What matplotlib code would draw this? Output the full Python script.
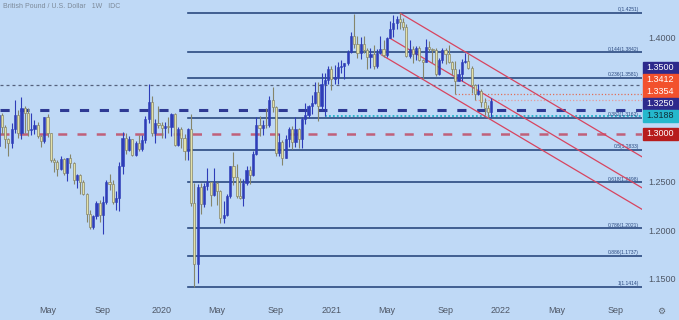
import matplotlib.pyplot as plt
import matplotlib.dates as mdates
import numpy as np
import pandas as pd
from matplotlib.patches import Rectangle

plt.rcParams['font.family'] = ['Liberation Sans', 'DejaVu Sans']

# weekly GBP/USD bars, first bar = week of 2019-01-21
weeks = pd.date_range("2019-01-21", periods=152, freq="7D")

opens = [
    # 2019
    1.2870, 1.3195, 1.3074, 1.2940, 1.2902, 1.3045, 1.3195, 1.3005, 1.3262, 1.3210,
    1.3035, 1.3045, 1.3085, 1.2975, 1.2920, 1.3177, 1.3005, 1.2725, 1.2710, 1.2630,
    1.2740, 1.2595, 1.2750, 1.2695, 1.2520, 1.2575, 1.2495, 1.2375, 1.2165, 1.2030,
    1.2145, 1.2280, 1.2160, 1.2290, 1.2500, 1.2475, 1.2290, 1.2330, 1.2665, 1.2960,
    1.2835, 1.2940, 1.2775, 1.2900, 1.2840, 1.2935, 1.3150, 1.3330, 1.3005, 1.3110,
    # 2020
    1.3085, 1.3060, 1.3075, 1.3070, 1.3205, 1.2880, 1.3050, 1.2960, 1.2820, 1.3045,
    1.2280, 1.1650, 1.2450, 1.2270, 1.2455, 1.2495, 1.2365, 1.2490, 1.2405, 1.2125,
    1.2160, 1.2350, 1.2665, 1.2550, 1.2350, 1.2335, 1.2485, 1.2620, 1.2570, 1.2790,
    1.3085, 1.3055, 1.3090, 1.3085, 1.3350, 1.3275, 1.2795, 1.2915, 1.2750, 1.2945,
    1.3045, 1.2915, 1.3045, 1.2945, 1.3150, 1.3190, 1.3285, 1.3320, 1.3435, 1.3285,
    1.3510, 1.3560,
    # 2021
    1.3670, 1.3565, 1.3590, 1.3690, 1.3705, 1.3730, 1.3850, 1.4015, 1.3925, 1.3840,
    1.3925, 1.3865, 1.3795, 1.3830, 1.3705, 1.3840, 1.3875, 1.3820, 1.3995, 1.4085,
    1.4150, 1.4190, 1.4155, 1.4110, 1.3805, 1.3880, 1.3825, 1.3890, 1.3760, 1.3745,
    1.3900, 1.3875, 1.3865, 1.3620, 1.3760, 1.3870, 1.3830, 1.3740, 1.3675, 1.3545,
    1.3615, 1.3745, 1.3755, 1.3680, 1.3500, 1.3415, 1.3440, 1.3330, 1.3265, 1.3230,
]
highs = [
    1.3218, 1.3215, 1.3090, 1.2960, 1.3109, 1.3350, 1.3245, 1.3381, 1.3288, 1.3267,
    1.3210, 1.3144, 1.3120, 1.2985, 1.3177, 1.3200, 1.3010, 1.2750, 1.2725, 1.2765,
    1.2750, 1.2750, 1.2785, 1.2710, 1.2580, 1.2580, 1.2520, 1.2385, 1.2210, 1.2160,
    1.2300, 1.2310, 1.2350, 1.2525, 1.2583, 1.2515, 1.2410, 1.2708, 1.3013, 1.3012,
    1.2976, 1.2950, 1.2925, 1.2985, 1.2985, 1.3180, 1.3515, 1.3395, 1.3150, 1.3285,
    1.3120, 1.3120, 1.3170, 1.3210, 1.3212, 1.3070, 1.3070, 1.3000, 1.3060, 1.3200,
    1.2485, 1.2480, 1.2485, 1.2485, 1.2645, 1.2500, 1.2645, 1.2500, 1.2420, 1.2300,
    1.2380, 1.2670, 1.2810, 1.2690, 1.2545, 1.2535, 1.2670, 1.2665, 1.2820, 1.3170,
    1.3185, 1.3145, 1.3265, 1.3395, 1.3480, 1.3285, 1.3005, 1.2935, 1.2985, 1.3065,
    1.3080, 1.3175, 1.3060, 1.3175, 1.3315, 1.3300, 1.3400, 1.3540, 1.3540, 1.3625,
    1.3625, 1.3705,
    1.3705, 1.3710, 1.3745, 1.3760, 1.3735, 1.3865, 1.4050, 1.4241, 1.4015, 1.4000,
    1.4015, 1.3885, 1.3885, 1.3920, 1.3875, 1.4010, 1.3970, 1.4000, 1.4165, 1.4235,
    1.4220, 1.4251, 1.4200, 1.4135, 1.3975, 1.3905, 1.3910, 1.3910, 1.3775, 1.3985,
    1.3960, 1.3890, 1.3890, 1.3780, 1.3890, 1.3890, 1.3915, 1.3750, 1.3750, 1.3675,
    1.3775, 1.3835, 1.3825, 1.3700, 1.3515, 1.3515, 1.3460, 1.3375, 1.3295, 1.3375,
]
lows = [
    1.2866, 1.3000, 1.2852, 1.2773, 1.2852, 1.3005, 1.2960, 1.2945, 1.3005, 1.2977,
    1.2987, 1.3000, 1.2955, 1.2866, 1.2905, 1.2965, 1.2710, 1.2605, 1.2560, 1.2625,
    1.2575, 1.2505, 1.2645, 1.2475, 1.2440, 1.2380, 1.2365, 1.2080, 1.2015, 1.2015,
    1.2115, 1.2080, 1.1958, 1.2275, 1.2415, 1.2270, 1.2205, 1.2195, 1.2580, 1.2790,
    1.2825, 1.2765, 1.2770, 1.2820, 1.2820, 1.2905, 1.3110, 1.2975, 1.2905, 1.3060,
    1.2955, 1.2960, 1.3010, 1.2975, 1.2870, 1.2870, 1.2850, 1.2725, 1.2725, 1.2250,
    1.1409, 1.1455, 1.2165, 1.2245, 1.2415, 1.2250, 1.2350, 1.2265, 1.2075, 1.2075,
    1.2150, 1.2335, 1.2465, 1.2335, 1.2320, 1.2250, 1.2470, 1.2480, 1.2560, 1.2780,
    1.2980, 1.2990, 1.3055, 1.3070, 1.3225, 1.2765, 1.2765, 1.2675, 1.2745, 1.2865,
    1.2845, 1.2865, 1.2855, 1.2855, 1.3105, 1.3165, 1.3200, 1.3310, 1.3135, 1.3250,
    1.3188, 1.3515,
    1.3450, 1.3520, 1.3520, 1.3625, 1.3565, 1.3715, 1.3835, 1.3890, 1.3780, 1.3775,
    1.3835, 1.3670, 1.3685, 1.3670, 1.3685, 1.3830, 1.3800, 1.3800, 1.3990, 1.4005,
    1.4090, 1.4085, 1.4075, 1.3790, 1.3785, 1.3730, 1.3760, 1.3750, 1.3570, 1.3740,
    1.3860, 1.3730, 1.3600, 1.3610, 1.3735, 1.3725, 1.3730, 1.3610, 1.3412, 1.3545,
    1.3545, 1.3730, 1.3670, 1.3425, 1.3354, 1.3400, 1.3280, 1.3195, 1.3160, 1.3175,
]
closes = [
    1.3195, 1.3074, 1.2940, 1.2902, 1.3045, 1.3195, 1.3005, 1.3262, 1.3210, 1.3035,
    1.3045, 1.3085, 1.2975, 1.2920, 1.3177, 1.3005, 1.2725, 1.2710, 1.2630, 1.2740,
    1.2595, 1.2750, 1.2695, 1.2520, 1.2575, 1.2495, 1.2375, 1.2165, 1.2030, 1.2145,
    1.2280, 1.2160, 1.2290, 1.2500, 1.2475, 1.2290, 1.2330, 1.2665, 1.2960, 1.2835,
    1.2940, 1.2775, 1.2900, 1.2840, 1.2935, 1.3150, 1.3330, 1.3005, 1.3110, 1.3085,
    1.3060, 1.3075, 1.3070, 1.3205, 1.2880, 1.3050, 1.2960, 1.2820, 1.3045, 1.2280,
    1.1650, 1.2450, 1.2270, 1.2455, 1.2495, 1.2365, 1.2490, 1.2405, 1.2125, 1.2160,
    1.2350, 1.2665, 1.2550, 1.2350, 1.2335, 1.2485, 1.2620, 1.2570, 1.2790, 1.3085,
    1.3055, 1.3090, 1.3085, 1.3350, 1.3275, 1.2795, 1.2915, 1.2750, 1.2945, 1.3045,
    1.2915, 1.3045, 1.2945, 1.3150, 1.3190, 1.3285, 1.3320, 1.3435, 1.3285, 1.3510,
    1.3560, 1.3670,
    1.3565, 1.3590, 1.3690, 1.3705, 1.3730, 1.3850, 1.4015, 1.3925, 1.3840, 1.3925,
    1.3865, 1.3795, 1.3830, 1.3705, 1.3840, 1.3875, 1.3820, 1.3995, 1.4085, 1.4150,
    1.4190, 1.4155, 1.4110, 1.3805, 1.3880, 1.3825, 1.3890, 1.3760, 1.3745, 1.3900,
    1.3875, 1.3865, 1.3620, 1.3760, 1.3870, 1.3830, 1.3740, 1.3675, 1.3545, 1.3615,
    1.3745, 1.3755, 1.3680, 1.3500, 1.3415, 1.3440, 1.3330, 1.3265, 1.3230, 1.3340,
]

# fibonacci retracement (Mar 2020 low -> Jun 2021 high)
fib_ratios = ["0", "0.144", "0.236", "0.382", "0.5", "0.618", "0.786", "0.886", "1"]
fib_levels = [1.4251, 1.3842, 1.3581, 1.3162, 1.2833, 1.2498, 1.2021, 1.1737, 1.1414]
fib_start = "2020-03-02"

# descending channel: start date, start price, end price (at right edge)
chan_start_dates = ["2021-06-01", "2021-05-10", "2021-04-22"]
chan_start_prices = [1.4248, 1.3989, 1.3816]
chan_end_prices = [1.2762, 1.2441, 1.2218]

# price levels shown in the right-hand boxes
box_levels = [1.3500, 1.3412, 1.3354, 1.3250, 1.3188, 1.3000]
box_colors = ["#2d2a8c", "#f2512d", "#f2512d", "#2d2a8c", "#25b8cc", "#b71c1c"]
box_text = ["white", "white", "white", "white", "#10303a", "white"]

tick_dates = ["2019-05-06", "2019-09-02", "2020-01-06", "2020-05-04", "2020-09-07",
              "2021-01-04", "2021-05-03", "2021-09-06", "2022-01-03", "2022-05-02",
              "2022-09-05"]
tick_names = ["May", "Sep", "2020", "May", "Sep", "2021", "May", "Sep", "2022", "May", "Sep"]
price_ticks = [1.15, 1.20, 1.25, 1.40]

BG = "#bfd9f6"
UP = "#2e3db8"
DOWN_FACE = "#e3e1a8"
DOWN_EDGE = "#85856a"
FIB = "#2b4a80"
RED = "#d8445f"

fig = plt.figure(figsize=(6.79, 3.2), dpi=100)
fig.patch.set_facecolor(BG)
ax = fig.add_axes([0, 20 / 320, 641.7 / 679, 300 / 320])
ax.set_facecolor(BG)
for s in ax.spines.values():
    s.set_visible(False)

x0 = mdates.date2num(pd.Timestamp("2019-01-24"))
x1 = mdates.date2num(pd.Timestamp("2022-11-01"))
ax.set_xlim(x0, x1)
ax.set_ylim(1.12761, 1.43859)

# horizontal levels
ax.axhline(1.3500, color="#56627e", lw=0.9, ls=(0, (2.4, 2.4)), zorder=1)
ax.axhline(1.3250, color="#2e3a94", lw=2.2, ls=(0, (3, 3.5)), zorder=1)
ax.axhline(1.3000, color="#c0607a", lw=1.8, ls=(0, (3.6, 4.1)), zorder=1)
ax.plot([mdates.date2num(pd.Timestamp("2021-09-27")), x1], [1.3412, 1.3412],
        color="#e0705a", lw=0.9, ls=(0, (1, 1.6)), zorder=1)
ax.plot([mdates.date2num(pd.Timestamp("2021-11-08")), x1], [1.3354, 1.3354],
        color="#e69a9a", lw=0.9, ls=(0, (1, 1.6)), zorder=1)
ax.plot([mdates.date2num(pd.Timestamp("2020-12-21")), x1], [1.3188, 1.3188],
        color="#1fb0c8", lw=1.3, ls=(0, (1, 1.2)), zorder=1)

# fib lines + labels
fs = mdates.date2num(pd.Timestamp(fib_start))
for r, lv in zip(fib_ratios, fib_levels):
    ax.plot([fs, x1], [lv, lv], color=FIB, lw=1.2, zorder=2)
    ax.text(x1 - 6, lv + 0.0006, f"{r}({lv:.4f})", fontsize=3.6, color=FIB,
            ha="right", va="bottom", zorder=2)

# channel
for d, p0, p1 in zip(chan_start_dates, chan_start_prices, chan_end_prices):
    ax.plot([mdates.date2num(pd.Timestamp(d)), x1], [p0, p1], color=RED, lw=0.9, zorder=3)

# candles
xs = mdates.date2num(weeks)
o = np.array(opens); h = np.array(highs); l = np.array(lows); c = np.array(closes)
up = c >= o
ax.vlines(xs[up], l[up], h[up], color=UP, lw=0.8, zorder=4)
ax.vlines(xs[~up], l[~up], h[~up], color=DOWN_EDGE, lw=0.8, zorder=4)
body = np.maximum(np.abs(c - o), 0.0004)
ax.bar(xs[up], body[up], bottom=np.minimum(o, c)[up], width=4.6,
       color=UP, edgecolor=UP, lw=0.4, zorder=5)
ax.bar(xs[~up], body[~up], bottom=np.minimum(o, c)[~up], width=4.6,
       color=DOWN_FACE, edgecolor=DOWN_EDGE, lw=0.5, zorder=5)

# axes ticks
ax.set_xticks([mdates.date2num(pd.Timestamp(d)) for d in tick_dates])
ax.set_xticklabels(tick_names)
ax.tick_params(axis="x", length=0, pad=4, labelsize=6.5, labelcolor="#4e5766")
ax.yaxis.tick_right()
ax.set_yticks(price_ticks)
ax.set_yticklabels([f"{v:.4f}" for v in price_ticks])
ax.tick_params(axis="y", length=0, pad=4.5, labelsize=6.5, labelcolor="#4e5766")

# title
fig.text(3 / 679, 1 - 6 / 320, "British Pound / U.S. Dollar   1W   IDC", fontsize=5,
         color="#7d8a99", ha="left", va="center")

# stacked price boxes on the axis (pushed up when they would overlap)
fig.canvas.draw()
H = 12
W, Hf = 679, 320
prev_top = None
centers = []
for lv in reversed(box_levels):
    yd = ax.transData.transform((x0, lv))[1]
    cy = Hf - yd
    if prev_top is not None and cy + H / 2 > prev_top:
        cy = prev_top - H / 2
    centers.append(cy)
    prev_top = cy - H / 2
centers = centers[::-1]
for lv, cy, col, tc in zip(box_levels, centers, box_colors, box_text):
    fig.patches.append(Rectangle((642.7 / W, 1 - (cy + H / 2) / Hf), 35 / W, H / Hf,
                                 transform=fig.transFigure, color=col, zorder=10))
    fig.text(660.5 / W, 1 - cy / Hf, f"{lv:.4f}", fontsize=6.5, color=tc,
             ha="center", va="center", zorder=11)

fig.text(661 / W, 1 - 311 / Hf, "\u2699", fontsize=6.5, color="#5d6672",
         ha="center", va="center", family=["DejaVu Sans"])

fig.savefig("out.png", dpi=100, facecolor=BG)
